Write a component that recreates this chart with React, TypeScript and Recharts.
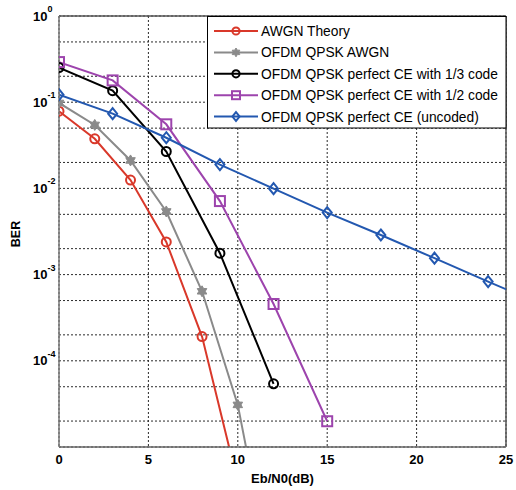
import React from 'react';
import { LineChart, Line, XAxis, YAxis, CartesianGrid, Legend, ReferenceLine } from 'recharts';

// Eb/N0 (dB) sample points per curve
const ebnoTheory = [0, 2, 4, 6, 8, 10];
const ebnoSim = [0, 2, 4, 6, 8, 10, 12];
const ebnoRate13 = [0, 3, 6, 9, 12];
const ebnoRate12 = [0, 3, 6, 9, 12, 15];
const ebnoUncoded = [0, 3, 6, 9, 12, 15, 18, 21, 24, 27];

// BER values
const berTheory = [0.0786, 0.0376, 0.0125, 0.00239, 0.000191, 0.00000387];
const berOfdmAwgn = [0.098, 0.0545, 0.0211, 0.0054, 0.00064, 0.0000308, 0.00000023];
const berRate13 = [0.252, 0.136, 0.0268, 0.00177, 0.000054];
const berRate12 = [0.292, 0.179, 0.0554, 0.00713, 0.000456, 0.0000199];
const berUncoded = [0.122, 0.0736, 0.0387, 0.0189, 0.00993, 0.00524, 0.00288, 0.00155, 0.00083, 0.00045];

const xTicks = [0, 5, 10, 15, 20, 25];
const yTicks = [1, 0.1, 0.01, 0.001, 0.0001];
const yDecades = [1e-5, 1e-4, 1e-3, 1e-2, 1e-1];
const yGrid = [...yDecades.flatMap((d) => [1, 2, 3, 4, 5, 6, 7, 8, 9].map((k) => k * d)), 1];

const FONT = '"Liberation Sans", Arial, sans-serif';

const toRows = (xs: number[], ys: number[]) => xs.map((x, i) => ({ x, y: ys[i] }));

const series = [
  { name: 'AWGN Theory', color: '#d9382a', marker: 'circle', data: toRows(ebnoTheory, berTheory) },
  { name: 'OFDM QPSK AWGN', color: '#8a8a8a', marker: 'star', data: toRows(ebnoSim, berOfdmAwgn) },
  { name: 'OFDM QPSK perfect CE with 1/3 code', color: '#000000', marker: 'circle', data: toRows(ebnoRate13, berRate13) },
  { name: 'OFDM QPSK perfect CE with 1/2 code', color: '#9d44ad', marker: 'square', data: toRows(ebnoRate12, berRate12) },
  { name: 'OFDM QPSK perfect CE (uncoded)', color: '#2358b0', marker: 'diamond', data: toRows(ebnoUncoded, berUncoded) },
];

function markerShape(kind: string, cx: number, cy: number, color: string, s = 1) {
  if (kind === 'circle') {
    return <circle cx={cx} cy={cy} r={4.5 * s} fill="none" stroke={color} strokeWidth={2} />;
  }
  if (kind === 'square') {
    const h = 5 * s;
    return <rect x={cx - h} y={cy - h} width={2 * h} height={2 * h} fill="none" stroke={color} strokeWidth={2} />;
  }
  if (kind === 'diamond') {
    const w = 4.5 * s;
    const h = 5.5 * s;
    return (
      <path d={`M${cx},${cy - h}L${cx + w},${cy}L${cx},${cy + h}L${cx - w},${cy}Z`} fill="none" stroke={color} strokeWidth={2} />
    );
  }
  // filled six-point star
  const pts: string[] = [];
  for (let i = 0; i < 12; i++) {
    const a = -Math.PI / 2 + (i * Math.PI) / 6;
    const r = (i % 2 === 0 ? 5.5 : 3.2) * s;
    pts.push(`${cx + r * Math.cos(a)},${cy + r * Math.sin(a)}`);
  }
  return <polygon points={pts.join(' ')} fill={color} stroke={color} strokeWidth={1} />;
}

const YTick = (props: any) => {
  const { x, y, payload } = props;
  const exp = Math.round(Math.log10(payload.value));
  return (
    <text x={x - 18} y={y} dy={4.5} textAnchor="start" fontFamily={FONT} fill="#000">
      <tspan fontSize={13} fontWeight="bold">10</tspan>
      <tspan fontSize={9} fontWeight="bold" dy={-8.5}>{exp}</tspan>
    </text>
  );
};

const XTick = (props: any) => {
  const { x, y, payload } = props;
  return (
    <text x={x} y={y} dy={8.5} textAnchor="middle" fontFamily={FONT} fontSize={13} fontWeight="bold" fill="#000">
      {payload.value}
    </text>
  );
};

const BerLabel = () => (
  <text
    transform="translate(15,234) rotate(-90)"
    textAnchor="middle"
    dy={4.5}
    fontFamily={FONT}
    fontSize={12.5}
    fontWeight="bold"
    fill="#000"
  >
    BER
  </text>
);

const LegendBox = () => (
  <svg width={300} height={113} style={{ display: 'block' }}>
    <rect x={0.5} y={0.5} width={298.5} height={111.5} fill="#fff" stroke="#000" strokeWidth={1} />
    {series.map((s, i) => {
      const cy = 15 + i * 21.4;
      return (
        <g key={s.name}>
          <line x1={7} x2={51} y1={cy} y2={cy} stroke={s.color} strokeWidth={2} />
          {markerShape(s.marker, 29, cy, s.color, 0.8)}
          <text x={54} y={cy + 5} fontFamily={FONT} fontSize={13.8} fill="#000">
            {s.name}
          </text>
        </g>
      );
    })}
  </svg>
);

export default function App() {
  return (
    <div style={{ position: 'absolute', left: 0, top: 0, background: '#fff' }}>
      <LineChart width={516} height={490} margin={{ top: 16, right: 10, bottom: 0, left: 0 }}>
        <CartesianGrid
          stroke="#2a2a2a"
          strokeDasharray="2 2"
          horizontalValues={yGrid}
          verticalValues={xTicks}
        />
        <XAxis
          dataKey="x"
          type="number"
          domain={[0, 25]}
          ticks={xTicks}
          allowDataOverflow
          height={43}
          tickLine={false}
          axisLine={{ stroke: '#666', strokeWidth: 1.5 }}
          tick={<XTick />}
          label={{ value: 'Eb/N0(dB)', position: 'insideBottom', offset: 7, fontFamily: FONT, fontSize: 13, fontWeight: 'bold', fill: '#000' }}
        />
        <YAxis
          type="number"
          scale="log"
          domain={[1e-5, 1]}
          ticks={yTicks}
          allowDataOverflow
          width={59}
          tickLine={false}
          axisLine={{ stroke: '#777', strokeWidth: 1.5 }}
          tick={<YTick />}
          label={<BerLabel />}
        />
        <ReferenceLine y={1} stroke="#555" strokeWidth={1.5} />
        <ReferenceLine x={25} stroke="#555" strokeWidth={1.5} />
        {series.map((s) => (
          <Line
            key={s.name}
            data={s.data}
            dataKey="y"
            name={s.name}
            stroke={s.color}
            strokeWidth={2}
            isAnimationActive={false}
            dot={(p: any) => <g key={`${s.name}-${p.index}`}>{markerShape(s.marker, p.cx, p.cy, s.color)}</g>}
            activeDot={false}
          />
        ))}
        <Legend
          layout="vertical"
          align="center"
          verticalAlign="middle"
          content={<LegendBox />}
          wrapperStyle={{ left: 207, top: 16, width: 300, height: 113 }}
        />
      </LineChart>
    </div>
  );
}
